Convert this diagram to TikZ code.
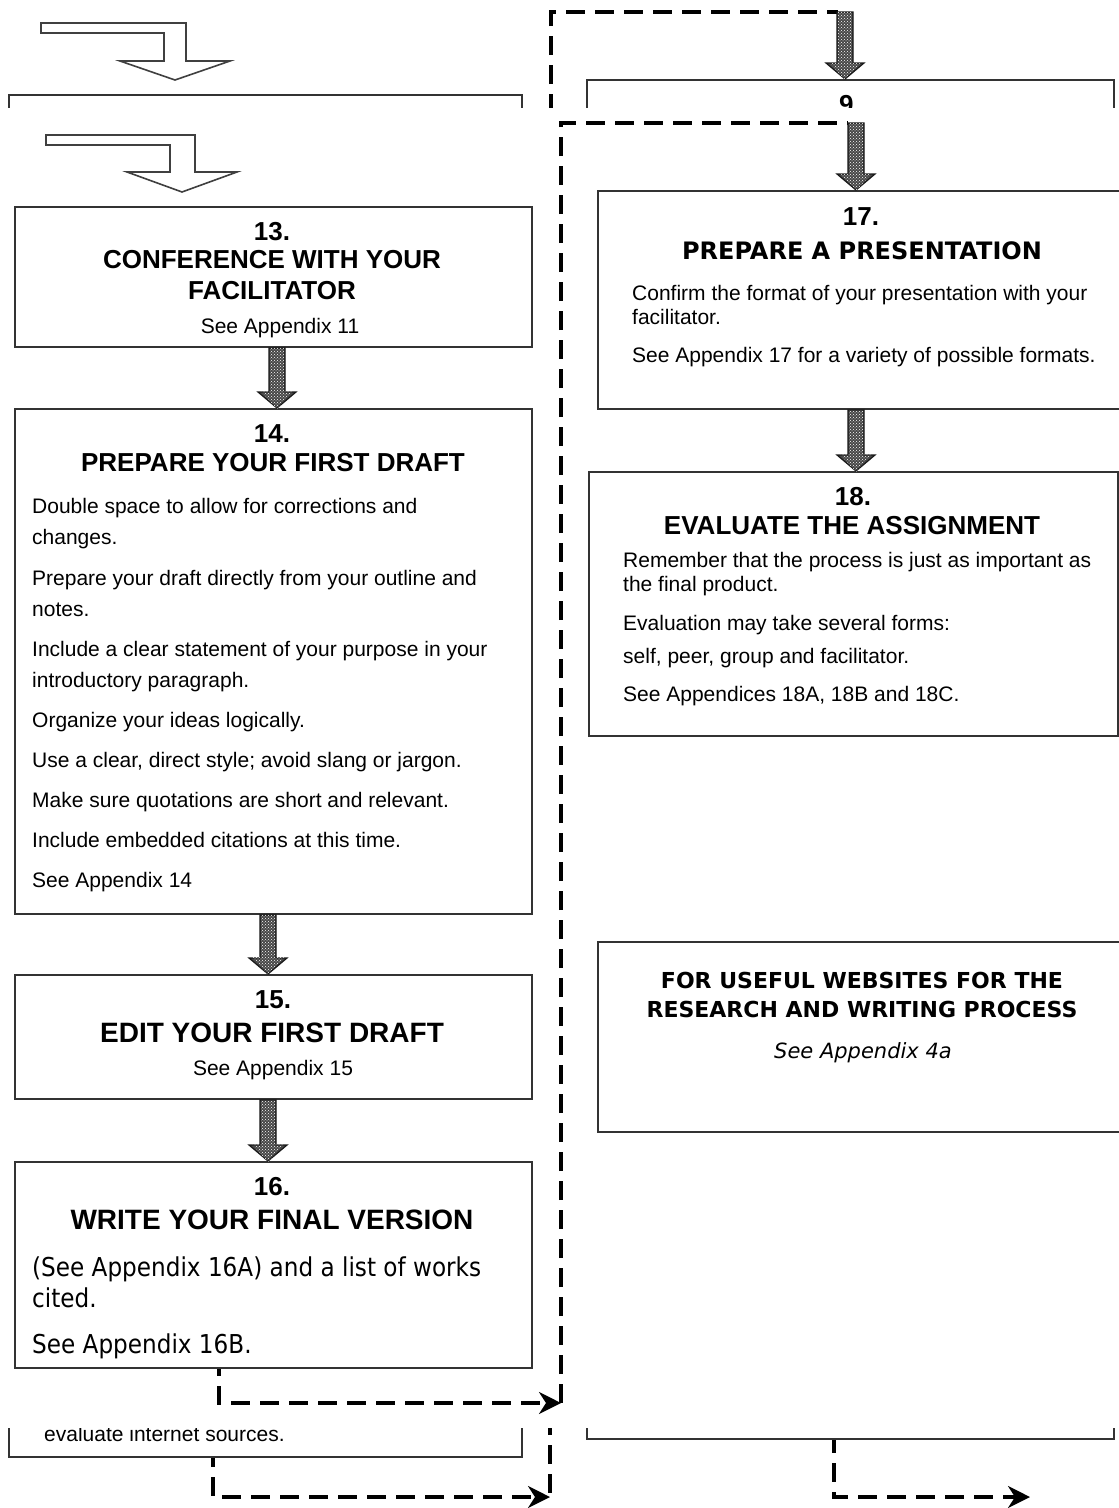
\documentclass[tikz,border=0pt]{standalone}
\usepackage{fontspec}
\setmainfont{Liberation Sans}
\newfontfamily\tah{DejaVu Sans}[FakeStretch=0.89]
\newfontfamily\tahb{DejaVu Sans}[BoldFont={DejaVu Sans Bold},ItalicFont={DejaVu Sans Oblique}]
\usetikzlibrary{arrows.meta,patterns,calc}

\newcommand\bodyf{\fontsize{21}{24}\selectfont}
\newcommand\numf{\fontsize{26}{30}\selectfont\bfseries}
\newcommand\headf{\fontsize{26}{30}\selectfont\bfseries}
\newcommand\headF{\fontsize{28}{32}\selectfont\bfseries}

% dotted block arrow pointing down from #1 to the level of #2
\newcommand\chkarrow[2]{%
  \path[chk] let \p1=(#1), \p2=(#2) in
    (\x1-8pt,\y1) -- (\x1+8pt,\y1) -- (\x1+8pt,\y2+16pt) -- (\x1+19pt,\y2+16pt)
    -- (\x1,\y2) -- (\x1-19pt,\y2+16pt) -- (\x1-8pt,\y2+16pt) -- cycle;
  \path[chkdots] let \p1=(#1), \p2=(#2) in
    (\x1-7pt,\y1) -- (\x1+7pt,\y1) -- (\x1+7pt,\y2+17pt) -- (\x1+16pt,\y2+17pt)
    -- (\x1,\y2-1pt) -- (\x1-16pt,\y2+17pt) -- (\x1-7pt,\y2+17pt) -- cycle;}

\tikzset{
  box/.style={draw=black!80, line width=2pt, rectangle, inner sep=0pt, anchor=north west},
  txt/.style={inner sep=0pt, anchor=base},
  lt/.style={inner sep=0pt, anchor=base west},
  dashline/.style={line width=3.2pt, dash pattern=on 19pt off 10pt, draw=black},
  chk/.style={draw=black!90, line width=1.2pt, fill=black!72},
  chkdots/.style={pattern=crosshatch dots, pattern color=white},
  hollow/.style={draw=black!75, line width=1.6pt, line join=miter, fill=white},
  tipR/.style={-{Stealth[length=22pt,width=22pt,inset=7pt]}}
}

\begin{document}
\begin{tikzpicture}[x=1pt,y=-1pt]
\useasboundingbox (0,0) rectangle (1119,1508);
\clip (0,0) rectangle (1119,1508);
\fill[white] (0,0) rectangle (1119,1508);

% ---------- page underneath ----------
\draw[hollow] (41,23) -- (186,23) -- (186,61) -- (230,61) -- (175,80) -- (120,61)
  -- (164,61) -- (164,33) -- (41,33) -- cycle;
\node[box, minimum width=513pt, minimum height=200pt] (bgA) at (8,94) {};
\node[box, minimum width=527pt, minimum height=200pt] (bgB) at (586,79) {};
\node[txt] (bg9) at (850,113) {\numf 9.};
\coordinate (ht) at (845,12);
\coordinate (hl) at (551,200);
\draw[dashline] (hl) |- ($(ht)+(-7,0)$);
\chkarrow{ht}{bgB.north -| ht}

\node[box, anchor=south west, minimum width=513pt, minimum height=200pt] (bgC) at (8,1458) {};
\node[box, anchor=south west, minimum width=527pt, minimum height=200pt] (bgD) at (586,1440) {};
\node[lt] (bgtxt) at (44,1441) {\bodyf evaluate internet sources.};
\coordinate (kt) at (550,1300);
\coordinate (kb) at (550,1497);
\coordinate (kr) at (1030,1497);
\draw[dashline] (kt) -- (kb);
\draw[dashline, tipR, dash phase=10pt] ($(bgC.south)+(-52.5,0)$) |- (kb);
\draw[dashline, tipR, dash phase=6pt] ($(bgD.south)+(-16.5,0)$) |- (kr);

% ---------- page on top ----------
\fill[white] (0,108) rectangle (1119,1427.5);

\draw[hollow] (46,135) -- (195,135) -- (195,172) -- (237,172) -- (182,192) -- (127,172)
  -- (170,172) -- (170,145) -- (46,145) -- cycle;

% step 13
\node[box, minimum width=517pt, minimum height=140pt] (n13) at (14,206) {};
\node[txt] (n13a) at (272,240) {\numf 13.};
\node[txt] (n13b) at (272,268) {\headf CONFERENCE WITH YOUR};
\node[txt] (n13c) at (272,299) {\headf FACILITATOR};
\node[txt] (n13d) at (280,333) {\bodyf See Appendix 11};

% step 14
\node[box, minimum width=517pt, minimum height=505pt] (n14) at (14,408) {};
\node[txt] (n14a) at (272,442) {\numf 14.};
\node[txt] (n14b) at (273,471) {\headf PREPARE YOUR FIRST DRAFT};
\node[lt] (n14c) at (32,513) {\bodyf Double space to allow for corrections and};
\node[lt] (n14d) at (32,544) {\bodyf changes.};
\node[lt] (n14e) at (32,585) {\bodyf Prepare your draft directly from your outline and};
\node[lt] (n14f) at (32,616) {\bodyf notes.};
\node[lt] (n14g) at (32,656) {\bodyf Include a clear statement of your purpose in your};
\node[lt] (n14h) at (32,687) {\bodyf introductory paragraph.};
\node[lt] (n14i) at (32,727) {\bodyf Organize your ideas logically.};
\node[lt] (n14j) at (32,767) {\bodyf Use a clear, direct style; avoid slang or jargon.};
\node[lt] (n14k) at (32,807) {\bodyf Make sure quotations are short and relevant.};
\node[lt] (n14l) at (32,847) {\bodyf Include embedded citations at this time.};
\node[lt] (n14m) at (32,887) {\bodyf See Appendix 14};

% step 15
\node[box, minimum width=517pt, minimum height=124pt] (n15) at (14,974) {};
\node[txt] (n15a) at (273,1008) {\numf 15.};
\node[txt] (n15b) at (272,1042) {\headF EDIT YOUR FIRST DRAFT};
\node[txt] (n15c) at (273,1075) {\bodyf See Appendix 15};

% step 16
\node[box, minimum width=517pt, minimum height=206pt] (n16) at (14,1161) {};
\node[txt] (n16a) at (272,1195) {\numf 16.};
\node[txt] (n16b) at (272,1229) {\headF WRITE YOUR FINAL VERSION};
\node[lt] (n16c) at (32,1276) {\tah\fontsize{26}{30}\selectfont (See Appendix 16A) and a list of works};
\node[lt] (n16d) at (32,1307) {\tah\fontsize{26}{30}\selectfont cited.};
\node[lt] (n16e) at (32,1353) {\tah\fontsize{26}{30}\selectfont See Appendix 16B.};

% step 17
\node[box, minimum width=533pt, minimum height=218pt] (n17) at (597,190) {};
\node[txt] (n17a) at (861,225) {\numf 17.};
\node[txt] (n17b) at (862,259) {\tahb\fontsize{24}{28}\selectfont\bfseries PREPARE A PRESENTATION};
\node[lt] (n17c) at (632,300) {\bodyf Confirm the format of your presentation with your};
\node[lt] (n17d) at (632,324) {\bodyf facilitator.};
\node[lt] (n17e) at (632,362) {\bodyf See Appendix 17 for a variety of possible formats.};

% step 18
\node[box, minimum width=529pt, minimum height=264pt] (n18) at (588,471) {};
\node[txt] (n18a) at (853,505) {\numf 18.};
\node[txt] (n18b) at (852,534) {\headf EVALUATE THE ASSIGNMENT};
\node[lt] (n18c) at (623,567) {\bodyf Remember that the process is just as important as};
\node[lt] (n18d) at (623,591) {\bodyf the final product.};
\node[lt] (n18e) at (623,630) {\bodyf Evaluation may take several forms:};
\node[lt] (n18f) at (623,663) {\bodyf self, peer, group and facilitator.};
\node[lt] (n18g) at (623,701) {\bodyf See Appendices 18A, 18B and 18C.};

% websites box
\node[box, minimum width=533pt, minimum height=190pt] (web) at (597,941) {};
\node[txt] (weba) at (862,988) {\tahb\fontsize{22}{26}\selectfont\bfseries FOR USEFUL WEBSITES FOR THE};
\node[txt] (webb) at (862,1017) {\tahb\fontsize{22}{26}\selectfont\bfseries RESEARCH AND WRITING PROCESS};
\node[txt] (webc) at (863,1058) {\tahb\fontsize{21}{25}\selectfont\itshape See Appendix 4a};

% dotted arrows between steps
\chkarrow{$(n13.south)+(3.5,0)$}{$(n14.north)+(3.5,0)$}
\chkarrow{$(n14.south)+(-5.5,0)$}{$(n15.north)+(-5.5,0)$}
\chkarrow{$(n15.south)+(-5.5,0)$}{$(n16.north)+(-5.5,0)$}
\coordinate (e18) at ($(n18.north)+(2.5,0)$);
\chkarrow{n17.south -| e18}{e18}

% dashed link from step 16 round to step 17
\coordinate (jb) at (561,1403);
\coordinate (jt) at (856,123);
\draw[dashline] (jb) |- ($(jt)+(-8,0)$);
\draw[dashline, tipR, dash phase=12pt] ($(n16.south)+(-54.5,0)$) |- (jb);
\chkarrow{jt}{n17.north -| jt}
\end{tikzpicture}
\end{document}
